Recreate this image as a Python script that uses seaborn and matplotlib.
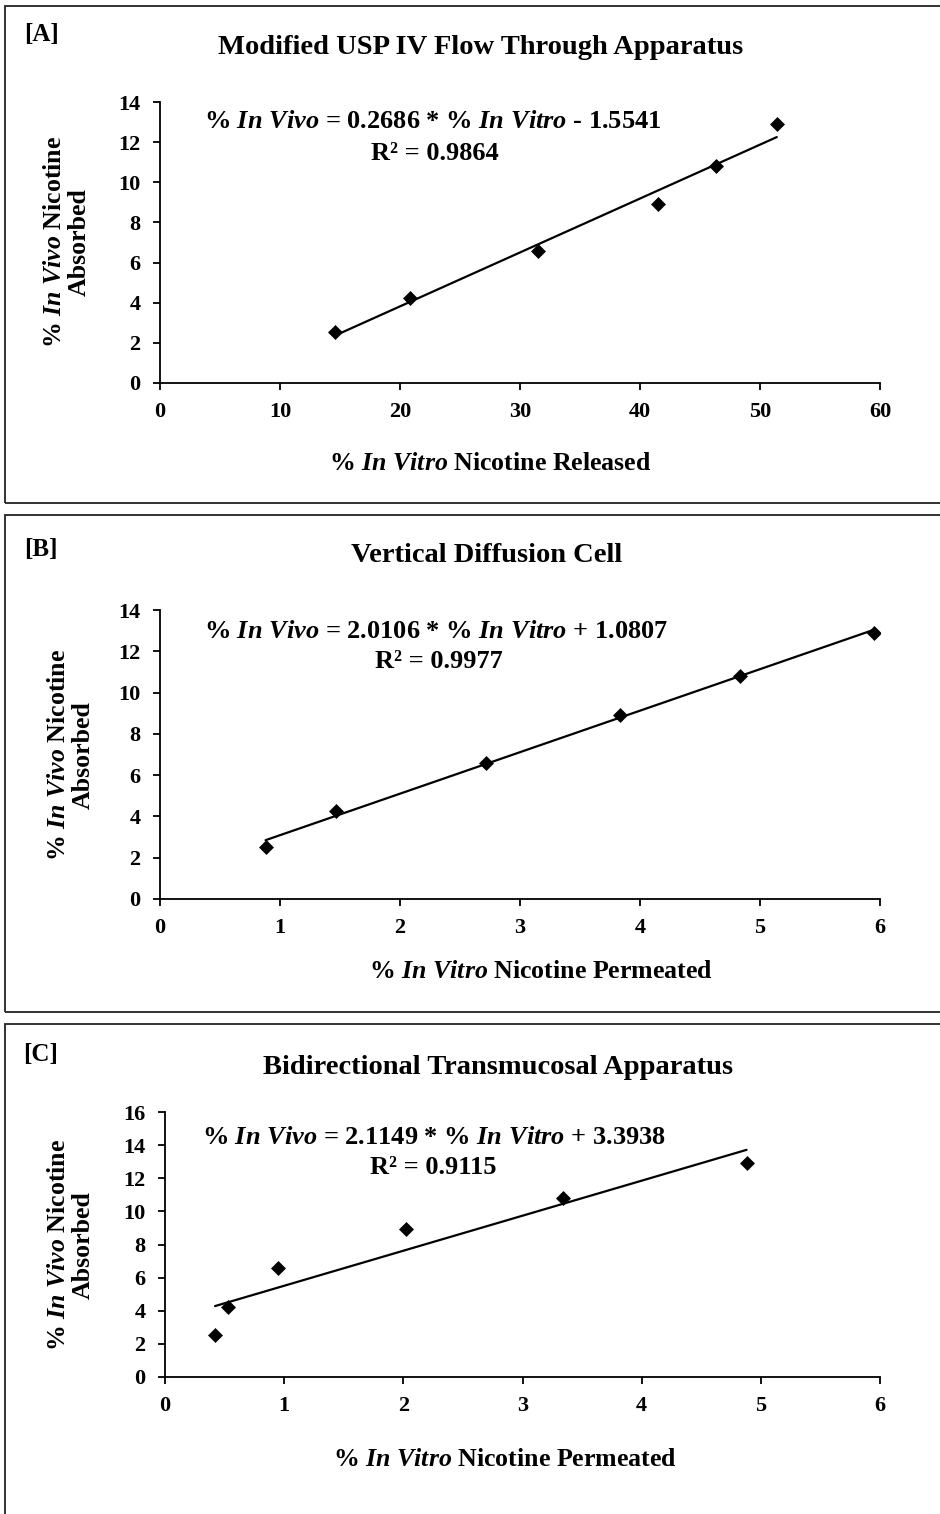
import matplotlib
matplotlib.use("Agg")
import matplotlib.pyplot as plt
from matplotlib.patches import Rectangle
import numpy as np
import pandas as pd
import seaborn as sns

# Percent nicotine absorbed in vivo (shared by all three correlations)
in_vivo_absorbed = [2.54, 4.24, 6.59, 8.92, 10.82, 12.9]

# In vitro release / permeation for each apparatus
usp4_released = [14.6, 20.8, 31.5, 41.5, 46.3, 51.4]
vdc_permeated = [0.88, 1.47, 2.72, 3.83, 4.83, 5.95]
btm_permeated = [0.42, 0.53, 0.95, 2.02, 3.34, 4.88]

# Linear fit coefficients (slope, intercept) and R^2 for each apparatus
fit_slopes = [0.2686, 2.0106, 2.1149]
fit_intercepts = [-1.5541, 1.0807, 3.3938]
fit_r2 = [0.9864, 0.9977, 0.9115]

panel_tags = ["[A]", "[B]", "[C]"]
panel_titles = ["Modified USP IV Flow Through Apparatus",
                "Vertical Diffusion Cell",
                "Bidirectional Transmucosal Apparatus"]
x_titles = [r"% $\mathit{In\ Vitro}$ Nicotine Released",
            r"% $\mathit{In\ Vitro}$ Nicotine Permeated",
            r"% $\mathit{In\ Vitro}$ Nicotine Permeated"]
y_title = "% $\\mathit{In\\ Vivo}$ Nicotine\nAbsorbed"
x_limits = [(0, 60), (0, 6), (0, 6)]
x_tick_values = [[0, 10, 20, 30, 40, 50, 60], [0, 1, 2, 3, 4, 5, 6], [0, 1, 2, 3, 4, 5, 6]]
y_limits = [(0, 14), (0, 14), (0, 16)]
y_tick_values = [list(range(0, 15, 2)), list(range(0, 15, 2)), list(range(0, 17, 2))]

sns.set_theme(style="ticks")
plt.rcParams["font.family"] = ["Liberation Serif", "DejaVu Serif"]
plt.rcParams["font.weight"] = "bold"
plt.rcParams["mathtext.fontset"] = "custom"
plt.rcParams["mathtext.rm"] = "Liberation Serif:bold"
plt.rcParams["mathtext.bf"] = "Liberation Serif:bold"
plt.rcParams["mathtext.it"] = "Liberation Serif:italic:bold"
plt.rcParams["axes.unicode_minus"] = False

W, H = 940, 1514
fig = plt.figure(figsize=(W / 100, H / 100), dpi=100)
fig.patch.set_facecolor("white")


def fx(px):
    return px / W


def fy(py):
    return 1 - py / H


# Layout of each panel in pixel units: box, axes, text anchors
boxes = [(5, 6, 1000, 503), (5, 515, 1000, 1012), (5, 1024, 1000, 1600)]
axes_px = [(160, 102, 880, 383), (160, 610, 880, 899), (165, 1112, 880, 1377)]
tag_pos = [(41, 34), (41, 549), (41, 1054)]
title_pos = [(481, 48), (487, 556), (498, 1067)]
eq_pos = [(433, 122), (436, 632), (434, 1138)]
r2_pos = [(435, 153), (439, 661), (433, 1167)]
xlab_pos = [(490, 464), (541, 972), (505, 1459)]
ylab_pos = [(67, 242), (71, 755), (71, 1245)]

datasets = [usp4_released, vdc_permeated, btm_permeated]

for i in range(3):
    bx0, by0, bx1, by1 = boxes[i]
    fig.add_artist(Rectangle((fx(bx0), fy(by1)), fx(bx1 - bx0), (by1 - by0) / H,
                             transform=fig.transFigure, fill=False,
                             edgecolor="#222222", linewidth=1.3, clip_on=False))

    ax0, ay0, ax1, ay1 = axes_px[i]
    ax = fig.add_axes([fx(ax0), fy(ay1), fx(ax1 - ax0), (ay1 - ay0) / H])
    ax.set_facecolor("white")

    df = pd.DataFrame({"in_vitro": datasets[i], "in_vivo": in_vivo_absorbed})
    x_lo, x_hi = min(datasets[i]), max(datasets[i])
    fit_df = pd.DataFrame({"in_vitro": [x_lo, x_hi],
                           "in_vivo": [fit_slopes[i] * x_lo + fit_intercepts[i],
                                       fit_slopes[i] * x_hi + fit_intercepts[i]]})

    sns.lineplot(data=fit_df, x="in_vitro", y="in_vivo", ax=ax,
                 color="black", linewidth=1.6, zorder=2)
    sns.scatterplot(data=df, x="in_vitro", y="in_vivo", ax=ax, marker="D",
                    s=58, color="black", edgecolor="black", linewidth=0, zorder=3)

    ax.set_xlim(*x_limits[i])
    ax.set_ylim(*y_limits[i])
    ax.set_xticks(x_tick_values[i])
    ax.set_yticks(y_tick_values[i])
    ax.set_xlabel("")
    ax.set_ylabel("")
    for side in ["top", "right"]:
        ax.spines[side].set_visible(False)
    for side in ["left", "bottom"]:
        ax.spines[side].set_color("black")
        ax.spines[side].set_linewidth(1.3)
    ax.tick_params(axis="both", direction="out", length=5, width=1.3,
                   color="black", labelsize=16, labelcolor="black")
    ax.tick_params(axis="x", pad=9)
    ax.tick_params(axis="y", pad=9)
    for lab in ax.get_xticklabels() + ax.get_yticklabels():
        lab.set_fontweight("bold")

    fig.text(fx(tag_pos[i][0]), fy(tag_pos[i][1]), panel_tags[i], ha="center",
             va="center", fontsize=18, fontweight="bold", color="black")
    fig.text(fx(title_pos[i][0]), fy(title_pos[i][1]), panel_titles[i], ha="center",
             va="center", fontsize=20.5, fontweight="bold", color="black")
    sign = "-" if fit_intercepts[i] < 0 else "+"
    eq = (r"% $\mathit{In\ Vivo}$ = " + f"{fit_slopes[i]:.4f}" + r" * % $\mathit{In\ Vitro}$ "
          + sign + f" {abs(fit_intercepts[i]):.4f}")
    fig.text(fx(eq_pos[i][0]), fy(eq_pos[i][1]), eq, ha="center", va="center",
             fontsize=19, fontweight="bold", color="black")
    fig.text(fx(r2_pos[i][0]), fy(r2_pos[i][1]), f"R² = {fit_r2[i]:.4f}", ha="center",
             va="center", fontsize=19, fontweight="bold", color="black")
    fig.text(fx(xlab_pos[i][0]), fy(xlab_pos[i][1]), x_titles[i], ha="center",
             va="center", fontsize=18.6, fontweight="bold", color="black")
    fig.text(fx(ylab_pos[i][0]), fy(ylab_pos[i][1]), y_title, ha="center",
             va="center", rotation=90, fontsize=18.6, fontweight="bold",
             color="black", multialignment="center", linespacing=1.1)

fig.savefig("out.png", dpi=100, facecolor="white")
